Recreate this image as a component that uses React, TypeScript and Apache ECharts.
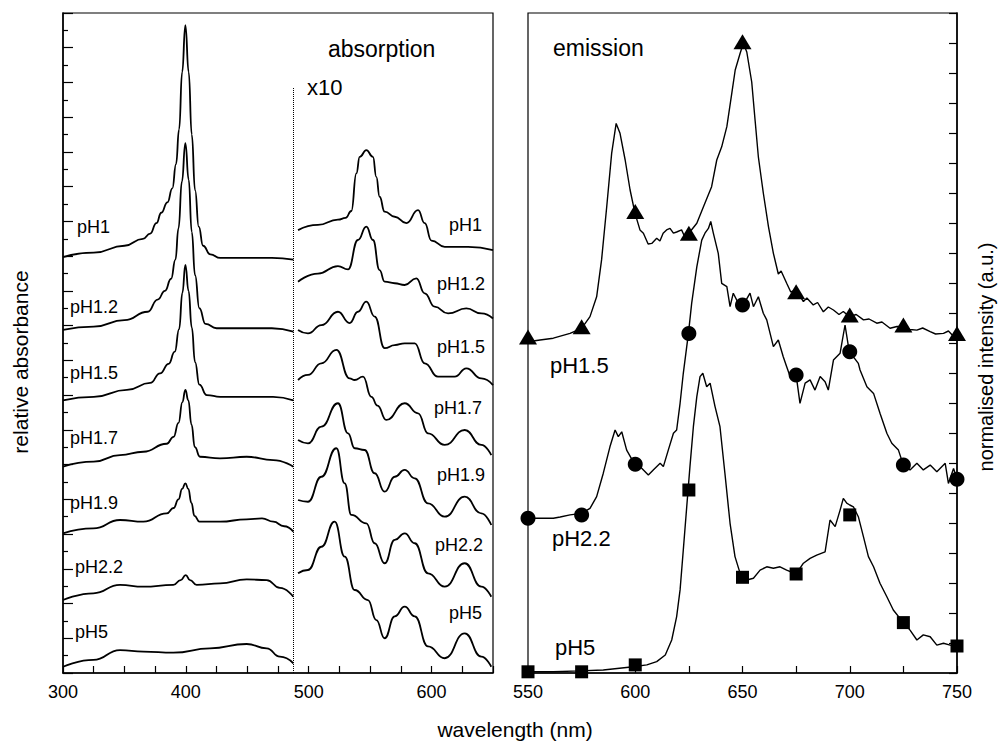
import React, { useEffect, useRef } from 'react';
import * as echarts from 'echarts';

const FONT = '"Liberation Sans", Arial, Helvetica, sans-serif';

// ---------- absorption: UV part (300-487.5 nm), stacked offsets in axis units ----------
const absUV_pH1 = [[300,23.95],[325,24.2],[350,24.6],[365,25.0],[371,25.3],[376,25.9],[380,26.5],[385,27.1],[389,27.9],[392,29.3],[394.5,31.3],[397,34.6],[399.6,37.3],[402.3,34.6],[404.8,31.0],[407.5,27.8],[410.5,25.7],[414,24.6],[420,24.1],[428,23.9],[450,23.9],[470,23.9],[487.5,23.8]];
const absUV_pH12 = [[300,19.75],[325,19.94],[350,20.32],[369,20.8],[377,21.5],[383,22.0],[388,22.7],[391.5,23.8],[394,25.6],[396.8,28.3],[399.6,30.5],[402.3,28.4],[404.8,25.4],[407.5,22.9],[411,21.0],[416,20.1],[425,19.85],[450,19.85],[470,19.85],[487.5,19.65]];
const absUV_pH15 = [[300,15.7],[325,15.9],[352,16.3],[371,16.7],[379,17.25],[386,17.8],[391,18.5],[394.5,19.8],[397.2,21.9],[399.6,23.5],[402.2,22.0],[404.8,19.9],[407.5,17.9],[411,16.6],[417,16.0],[428,15.9],[447,15.9],[471,15.9],[487.5,15.7]];
const absUV_pH17 = [[300,11.88],[325,12.17],[346.4,12.55],[365.4,12.74],[384.4,13.2],[390,13.6],[394,14.4],[397.2,15.6],[399.6,16.3],[402,15.7],[404.6,14.3],[407.3,13.0],[411.5,12.45],[427.8,12.36],[449.5,12.45],[471.2,12.26],[487.5,11.88]];
const absUV_pH19 = [[300,8.04],[324.7,8.33],[346.4,8.81],[365.4,8.71],[384.4,9.19],[390,9.5],[394,10.0],[397,10.6],[399.6,10.92],[402,10.6],[404.5,9.8],[407,9.05],[411,8.72],[427.8,8.71],[449.5,8.85],[462,8.9],[471.2,8.71],[480,8.45],[487.5,8.14]];
const absUV_pH22 = [[300,4.2],[324.7,4.59],[346.4,5.07],[365.4,4.97],[389.8,5.07],[395.8,5.35],[399.9,5.64],[403.4,5.35],[408.8,5.07],[427.8,5.16],[449.5,5.39],[465.8,5.35],[476.6,4.9],[487.5,4.39]];
const absUV_pH5 = [[300,0.36],[324.7,0.75],[346.4,1.32],[365.4,1.23],[389.8,1.17],[419.6,1.42],[449.5,1.67],[465.8,1.42],[476.6,0.94],[487.5,0.56]];

// ---------- absorption: visible part x10 (491-650 nm) ----------
const absVis_pH1 = [[491.3,25.5],[507.5,25.8],[523.8,26.1],[530,26.2],[534.7,26.6],[538.8,28.77],[541.5,29.72],[546.9,30.1],[552.3,29.72],[555,28.57],[557.7,27.42],[561.8,26.56],[570,26.27],[579.5,25.9],[589,26.65],[594.4,25.9],[599.9,24.9],[610.7,24.54],[629.7,24.54],[650,24.35]];
const absVis_pH12 = [[491.3,22.53],[507.5,23.0],[523.8,23.43],[532,23.24],[540.1,24.93],[546.9,25.7],[552.3,24.93],[557.7,23.2],[561.8,22.53],[570,22.44],[578.1,22.34],[587.6,22.72],[594.4,21.86],[602.5,21.09],[613.4,20.7],[628.3,20.99],[640.5,20.7],[650,20.41]];
const absVis_pH15 = [[491.3,19.75],[499.4,19.55],[510.3,20.03],[523.8,20.8],[533.3,20.15],[540.1,20.8],[546.9,21.38],[553.7,20.52],[561.8,18.7],[570,18.88],[578.1,18.98],[586.3,18.98],[594.4,17.83],[605.2,17.06],[618.8,17.06],[628.3,17.54],[640.5,16.96],[650,16.58]];
const absVis_pH17 = [[491.3,16.87],[499.4,17.16],[510.3,17.83],[522.5,18.6],[533.3,16.96],[537.4,16.87],[544.2,17.06],[551,15.9],[556,15.4],[563.1,14.57],[578.1,15.53],[589,14.95],[597.1,13.8],[610.7,13.13],[627,13.99],[640.5,13.13],[648.6,12.55]];
const absVis_pH19 = [[491.3,13.41],[499.4,13.22],[510.3,14.18],[523.8,15.53],[532,13.8],[537.4,12.94],[545.5,12.84],[553.7,11.5],[561.8,10.44],[570,11.3],[578.1,11.69],[586.3,11.21],[597.1,9.77],[610.7,9.0],[627,10.15],[640.5,9.19],[648.6,8.52]];
const absVis_pH22 = [[491.3,9.96],[499.4,9.86],[510.3,11.3],[522.5,12.94],[529.3,10.92],[534.7,9.1],[546.9,8.62],[553.7,7.47],[561.8,6.32],[570,7.66],[578.1,8.04],[586.3,7.47],[597.1,5.74],[610.7,4.97],[627,6.32],[640.5,4.97],[648.6,4.39]];
const absVis_pH5 = [[491.3,5.74],[499.4,5.93],[510.3,7.27],[521.1,8.71],[529.3,6.7],[537.4,4.78],[548.2,4.2],[555,3.05],[561.8,2.0],[570,3.26],[578.1,3.82],[586.3,3.26],[597.1,1.53],[610.7,0.85],[627,2.28],[640.5,0.94],[648.6,0.36]];

const absSplitWl = 487.5;
const absSplitTop = 33.7;

// ---------- emission ----------
const em_pH15 = [[550,11.04],[555.6,11.1],[561.8,11.16],[569.6,11.32],[575,11.49],[578.9,11.88],[582,12.54],[584.3,13.77],[586.7,15.54],[589,17.32],[591.1,18.32],[592.9,17.99],[595.3,17.1],[597.6,16.1],[599.9,15.32],[602.2,14.77],[603.8,14.66],[606,14.3],[607.7,14.32],[610,14.49],[611.5,14.4],[613,14.66],[614.6,14.77],[616.2,14.82],[617.8,14.66],[619.3,14.7],[621.6,14.77],[623,14.55],[625,14.66],[628.7,14.99],[631.8,15.54],[635.6,16.21],[638,17.1],[640.3,17.54],[642.7,18.21],[645,19.32],[646.6,20.1],[648.9,20.66],[650.4,20.99],[652,20.7],[654.3,19.7],[655.9,18.4],[657.4,17.2],[659.7,16.0],[662.1,14.88],[664.4,13.99],[666.7,13.3],[668,13.4],[670.6,12.99],[672.5,12.7],[675,12.77],[678.4,12.38],[680,12.5],[683,12.27],[685,12.35],[687.7,12.04],[690,12.2],[692.4,12.1],[695,11.95],[697,12.05],[699.8,11.88],[703,11.95],[706.4,11.77],[709,11.8],[712.6,11.66],[715,11.7],[718.8,11.49],[722,11.55],[725,11.54],[728,11.45],[731.3,11.43],[734,11.5],[737.5,11.38],[740,11.3],[743.7,11.32],[746,11.4],[748,11.25],[750,11.27]];
const em_pH22 = [[550,5.16],[556,5.16],[561.8,5.16],[565,5.2],[569.6,5.27],[575,5.32],[578.9,5.49],[582,5.88],[585.1,6.66],[588.2,7.54],[590.6,8.1],[592.1,7.88],[593.7,8.04],[596,7.43],[599.1,7.04],[602.2,6.88],[606.1,6.6],[608.4,6.77],[611.6,6.99],[613.1,6.88],[615.4,7.43],[617.8,7.99],[619.3,8.1],[620.9,8.99],[622.4,9.99],[624,10.88],[624.8,11.32],[626.3,12.32],[628.7,13.54],[631,14.43],[632.5,14.66],[634.1,14.82],[635.2,15.05],[636.4,14.66],[638.7,13.99],[640.3,12.99],[642.7,12.88],[644.2,12.21],[645.7,12.66],[648.1,12.32],[650.4,12.27],[653.5,12.66],[655.1,12.21],[657.4,12.54],[659.7,11.99],[661.3,11.77],[664.4,10.88],[666.7,11.1],[669,10.54],[670.6,10.21],[672.2,9.88],[675,9.93],[676.8,8.99],[679.2,9.66],[681.5,9.77],[683.8,9.43],[686.2,9.88],[688.5,9.71],[690,9.43],[692.4,10.43],[695.5,10.66],[697.8,11.6],[699.4,10.88],[701.7,10.54],[704,10.32],[704.8,10.1],[708,9.54],[711.1,9.32],[714.1,8.66],[717.3,7.99],[719.6,7.66],[722.7,7.43],[725,6.93],[728.1,6.77],[731.3,6.99],[734.3,6.77],[737.5,6.93],[740.6,6.71],[744.5,6.99],[746,6.32],[748.4,6.82],[750,6.46]];
const em_pH5 = [[550,0.04],[561.8,0.04],[574.2,0.07],[585.1,0.1],[599.1,0.21],[605.4,0.27],[610,0.38],[614,0.6],[617,1.1],[619.3,1.88],[620.9,2.77],[622.4,4.1],[624,5.54],[625.5,6.88],[627.1,8.21],[628.7,9.21],[630.2,9.88],[631.5,9.99],[633.3,9.54],[634.9,9.66],[637.2,8.88],[639.5,8.21],[641.8,6.66],[644.2,4.99],[646.5,3.88],[648.9,3.32],[650.1,3.19],[652,3.1],[655.1,3.16],[658.2,3.43],[661.3,3.54],[664.4,3.49],[667.5,3.54],[670.6,3.43],[675,3.3],[678.4,3.66],[681.5,3.82],[684.6,3.93],[688.5,4.04],[690.8,5.1],[693.2,4.88],[695.5,5.43],[697,5.82],[698.6,5.66],[700,5.6],[701.7,5.54],[704,5.21],[706.4,4.54],[708.7,3.88],[711.1,3.54],[714.1,2.99],[717.3,2.54],[720.3,2.1],[725,1.68],[728.1,1.43],[731.3,1.1],[734.3,1.27],[737.5,1.21],[740.6,0.93],[743.7,0.99],[746.8,0.93],[750,0.9]];

const markerWl = [550, 575, 600, 625, 650, 675, 700, 725, 750];
const mk_pH15 = [11.2, 11.54, 15.38, 14.66, 21.04, 12.71, 11.93, 11.6, 11.32];
const mk_pH22 = [5.16, 5.27, 6.96, 11.32, 12.27, 9.93, 10.71, 6.93, 6.46];
const mk_pH5 = [0.04, 0.04, 0.27, 6.1, 3.19, 3.3, 5.27, 1.68, 0.9];

const absTickLabels = [300, 400, 500, 600];
const emTickLabels = [550, 600, 650, 700, 750];

const absLabelsLeft = ['pH1', 'pH1.2', 'pH1.5', 'pH1.7', 'pH1.9', 'pH2.2', 'pH5'];
const absLabelsRight = ['pH1', 'pH1.2', 'pH1.5', 'pH1.7', 'pH1.9', 'pH2.2', 'pH5'];
const emLabels = ['pH1.5', 'pH2.2', 'pH5'];

// layout (pixel positions of free texts)
const leftLabelPos = [[77, 227], [70, 307], [70, 373], [70, 438], [70, 503], [75, 567], [75, 632]];
const rightLabelPos = [[482, 225], [485, 284], [485, 347], [482, 408], [485, 475], [483, 545], [482, 613]];
const emLabelPos = [[550, 365], [552, 538], [555, 647]];

function txt(text: string, x: number, y: number, size: number, align = 'left', rotation = 0) {
  return {
    type: 'text', x, y, rotation, silent: true, z: 10,
    style: { text, fill: '#000', fontSize: size, fontFamily: FONT, align, verticalAlign: 'middle' },
  };
}

function buildOption() {
  const absUV = [absUV_pH1, absUV_pH12, absUV_pH15, absUV_pH17, absUV_pH19, absUV_pH22, absUV_pH5];
  const absVis = [absVis_pH1, absVis_pH12, absVis_pH15, absVis_pH17, absVis_pH19, absVis_pH22, absVis_pH5];
  const absLine = {
    type: 'line', xAxisIndex: 0, yAxisIndex: 0, showSymbol: false, symbol: 'none',
    smooth: 0.5, smoothMonotone: 'x', silent: true, z: 3,
    lineStyle: { color: '#000', width: 1.8 },
  };
  const series: any[] = [];
  absUV.forEach((d, i) => {
    const s: any = { ...absLine, name: 'uv-' + absLabelsLeft[i], data: d };
    if (i === 0) {
      s.markLine = {
        silent: true, symbol: 'none', label: { show: false },
        lineStyle: { type: 'dotted', color: '#000', width: 1 },
        data: [[{ coord: [absSplitWl, 0] }, { coord: [absSplitWl, absSplitTop] }]],
      };
    }
    series.push(s);
  });
  absVis.forEach((d, i) => series.push({ ...absLine, name: 'vis-' + absLabelsRight[i], data: d }));

  const emLine = {
    type: 'line', xAxisIndex: 1, yAxisIndex: 1, showSymbol: false, symbol: 'none',
    smooth: false, silent: true, z: 3, lineStyle: { color: '#000', width: 1.4 },
  };
  series.push({ ...emLine, name: 'em-pH1.5', data: em_pH15 });
  series.push({ ...emLine, name: 'em-pH2.2', data: em_pH22 });
  series.push({ ...emLine, name: 'em-pH5', data: em_pH5 });
  const sc = { type: 'scatter', xAxisIndex: 1, yAxisIndex: 1, silent: true, clip: false, z: 5, itemStyle: { color: '#000', opacity: 1 } };
  series.push({ ...sc, symbol: 'triangle', symbolSize: [18, 15], data: markerWl.map((w, i) => [w, mk_pH15[i]]) });
  series.push({ ...sc, symbol: 'circle', symbolSize: 15, data: markerWl.map((w, i) => [w, mk_pH22[i]]) });
  series.push({ ...sc, symbol: 'rect', symbolSize: 13, data: markerWl.map((w, i) => [w, mk_pH5[i]]) });

  const axisLine = { show: true, onZero: false, lineStyle: { color: '#000', width: 1.5 } };
  const tickStyle = { color: '#000', width: 1.2 };
  const labelStyle = { color: '#000', fontSize: 18, fontFamily: FONT, margin: 10 };

  const graphic: any[] = [];
  absLabelsLeft.forEach((t, i) => graphic.push(txt(t, leftLabelPos[i][0], leftLabelPos[i][1], 18, 'left')));
  absLabelsRight.forEach((t, i) => graphic.push(txt(t, rightLabelPos[i][0], rightLabelPos[i][1], 18, 'right')));
  emLabels.forEach((t, i) => graphic.push(txt(t, emLabelPos[i][0], emLabelPos[i][1], 22, 'left')));
  graphic.push(txt('absorption', 328, 49, 23, 'left'));
  graphic.push(txt('x10', 307, 87, 22, 'left'));
  graphic.push(txt('emission', 553, 48, 23, 'left'));
  graphic.push(txt('relative absorbance', 20, 362, 21, 'center', Math.PI / 2));
  graphic.push(txt('normalised intensity (a.u.)', 986, 357, 20, 'center', Math.PI / 2));
  graphic.push(txt('wavelength (nm)', 515, 729, 21, 'center'));

  return {
    animation: false,
    backgroundColor: '#fff',
    grid: [
      { left: 63, top: 13, width: 430, height: 660, show: true, borderColor: '#000', borderWidth: 1.2, backgroundColor: 'transparent' },
      { left: 528, top: 13, width: 429, height: 660, show: true, borderColor: '#000', borderWidth: 1.2, backgroundColor: 'transparent' },
    ],
    xAxis: [
      {
        type: 'value', gridIndex: 0, min: 300, max: 650, interval: 25,
        axisLine, splitLine: { show: false },
        axisTick: { show: true, inside: true, length: 7, lineStyle: tickStyle },
        axisLabel: { ...labelStyle, formatter: (v: number) => (absTickLabels.includes(v) ? String(v) : '') },
      },
      {
        type: 'value', gridIndex: 1, min: 550, max: 750, interval: 25,
        axisLine, splitLine: { show: false },
        axisTick: { show: true, inside: true, length: 7, lineStyle: tickStyle },
        axisLabel: { ...labelStyle, formatter: (v: number) => (emTickLabels.includes(v) ? String(v) : '') },
      },
    ],
    yAxis: [
      {
        type: 'value', gridIndex: 0, min: 0, max: 38, interval: 2,
        axisLine, splitLine: { show: false }, axisLabel: { show: false },
        axisTick: { show: true, inside: true, length: 10, lineStyle: tickStyle },
        minorTick: { show: true, splitNumber: 2, length: 5, lineStyle: tickStyle },
        minorSplitLine: { show: false },
      },
      {
        type: 'value', gridIndex: 1, position: 'right', min: 0, max: 22, interval: 1,
        axisLine, splitLine: { show: false }, axisLabel: { show: false },
        axisTick: { show: true, inside: true, length: 8, lineStyle: tickStyle },
      },
    ],
    series,
    graphic,
  };
}

export default function App() {
  const ref = useRef<HTMLDivElement>(null);
  useEffect(() => {
    if (!ref.current) return;
    const chart = echarts.init(ref.current, null, { renderer: 'svg' });
    chart.setOption(buildOption() as any);
    return () => chart.dispose();
  }, []);
  return (
    <div
      ref={ref}
      style={{ position: 'absolute', left: 0, top: 0, width: 998, height: 743, background: '#fff' }}
    />
  );
}
